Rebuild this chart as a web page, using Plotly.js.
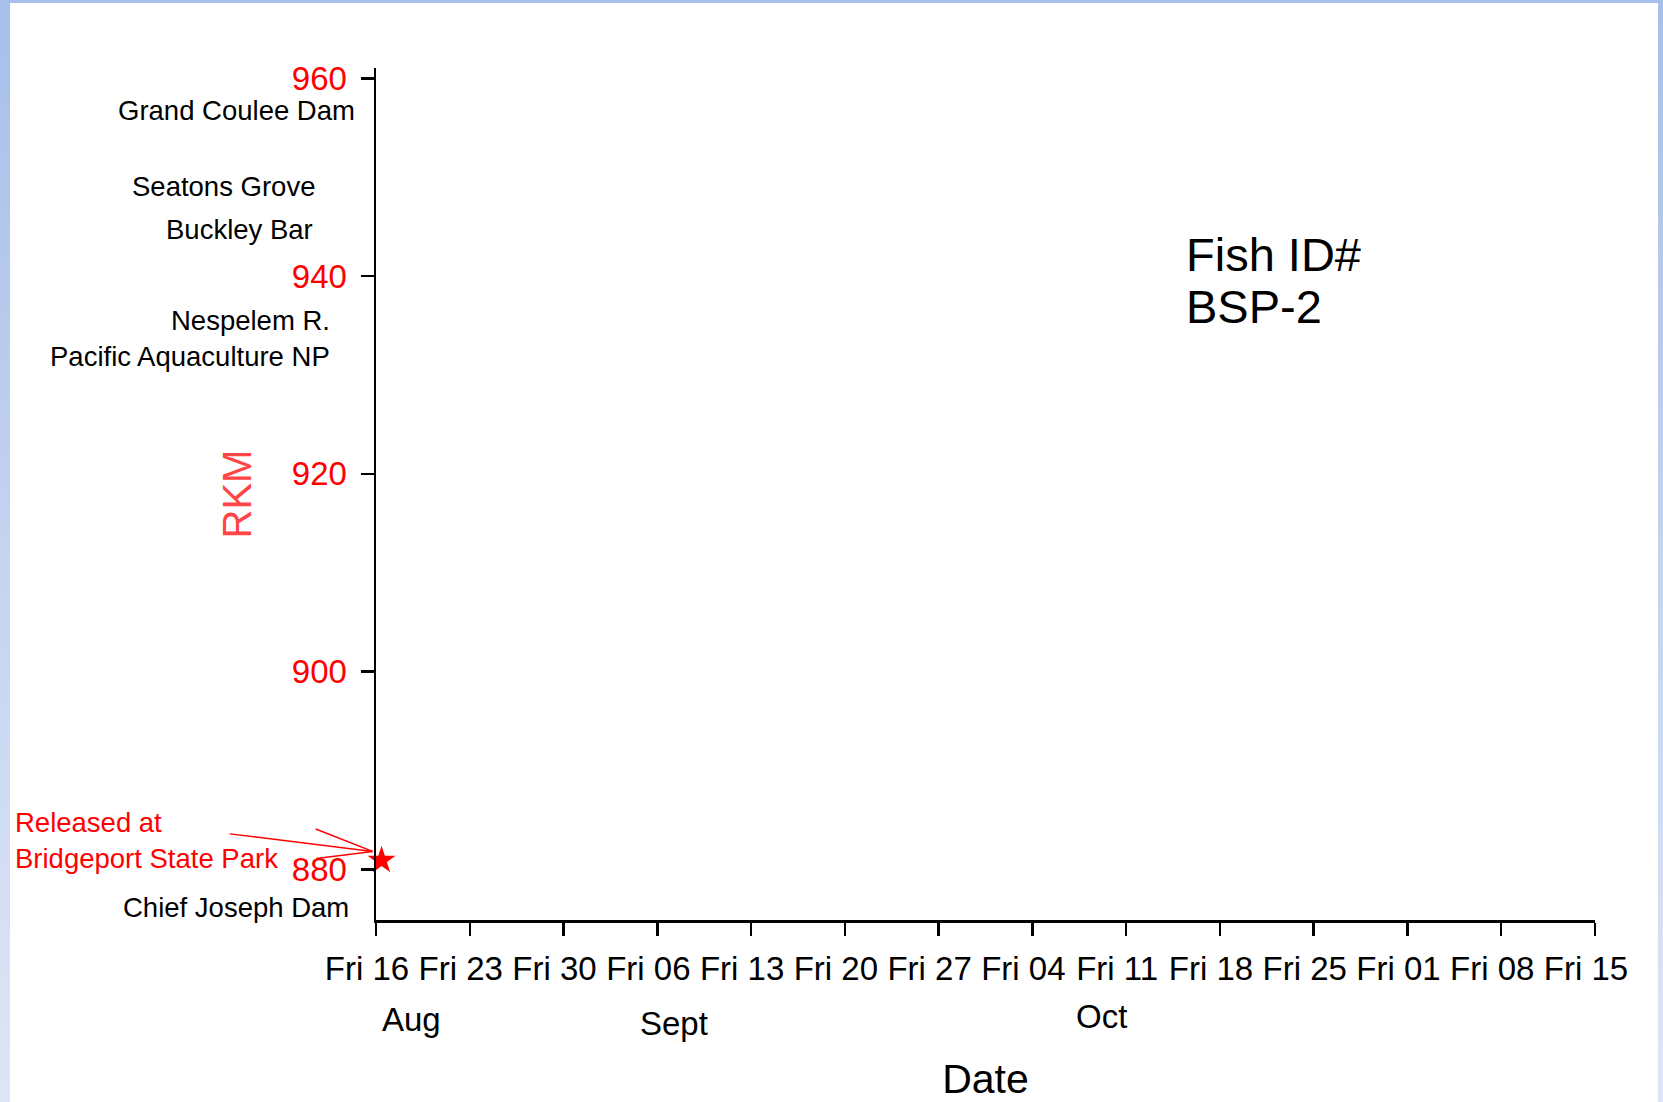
<!DOCTYPE html>
<html>
<head>
<meta charset="utf-8">
<script src="https://cdn.plot.ly/plotly-3.0.1.min.js"></script>
<style>
  html, body { margin: 0; padding: 0; }
  body { width: 1663px; height: 1102px; position: relative; overflow: hidden;
         background: linear-gradient(to bottom, #a7bfe9 0%, #c4d3f0 50%, #dde6f6 100%); }
  #sheet { position: absolute; left: 10px; top: 3px; width: 1648px; height: 1099px; background: #ffffff; }
  #chart { position: absolute; left: 0; top: 0; width: 1663px; height: 1102px; }
</style>
</head>
<body>
<div id="sheet"></div>
<div id="chart"></div>
<script>
// ---- data ----
const fishId = 'BSP-2';
const releaseDate = ['2013-08-16 10:00'];
const releaseRkm = [880.9];
const releaseLabel = 'Released at<br>Bridgeport State Park';

const locationNames = ['Grand Coulee Dam', 'Seatons Grove', 'Buckley Bar', 'Nespelem R.', 'Pacific Aquaculture NP', 'Chief Joseph Dam'];
const locationRkm = [956.8, 949.1, 944.7, 935.5, 931.9, 876.1];

const monthLabels = ['Aug', 'Sept', 'Oct'];
const monthLabelDates = ['2013-08-18 15:00', '2013-09-07 06:00', '2013-10-09 03:00'];

const xRange = ['2013-08-16', '2013-11-15'];
const yRange = [874.87, 961.05];
const yTickVals = [880, 900, 920, 940, 960];

// ---- layout helpers (pixel styling) ----
const FONT = 'Liberation Sans, Arial, Helvetica, sans-serif';
const plotLeft = 376;
const locRightEdge = [357, 317, 315, 332, 332, 351];
const monthYShift = [-99.5, -103.3, -96.5];

const annotations = [];
locationNames.forEach((name, i) => {
  annotations.push({
    text: name, xref: 'paper', x: 0, xanchor: 'right', xshift: locRightEdge[i] - plotLeft,
    yref: 'y', y: locationRkm[i], yanchor: 'middle', showarrow: false,
    font: {family: FONT, size: 27.5, color: '#000000'}
  });
});
monthLabels.forEach((m, i) => {
  annotations.push({
    text: m, xref: 'x', x: monthLabelDates[i], xanchor: 'center',
    yref: 'paper', y: 0, yanchor: 'middle', yshift: monthYShift[i], showarrow: false,
    font: {family: FONT, size: 33, color: '#000000'}
  });
});
annotations.push({
  text: releaseLabel, align: 'left', xref: 'paper', x: 0, xanchor: 'left', xshift: 13 - plotLeft,
  yref: 'y', y: releaseRkm[0], yanchor: 'middle', yshift: 20, showarrow: false,
  font: {family: FONT, size: 27.5, color: '#ff0000'}
});
annotations.push({
  text: 'Fish ID#', xref: 'paper', x: 0.663, xanchor: 'left', yref: 'paper', y: 0.7806, yanchor: 'middle',
  showarrow: false, font: {family: FONT, size: 47, color: '#000000'}
});
annotations.push({
  text: fishId, xref: 'paper', x: 0.663, xanchor: 'left', yref: 'paper', y: 0.7195, yanchor: 'middle',
  showarrow: false, font: {family: FONT, size: 47, color: '#000000'}
});

// pointer lines to the release marker: tail offsets (px) from the pointer tip
const pointerTails = [[-144.4, -17.7], [-58.4, -23], [-57.7, 7.3]];
pointerTails.forEach(t => {
  annotations.push({
    text: ' ', font: {size: 1}, xref: 'x', yref: 'y', x: releaseDate[0], y: releaseRkm[0],
    xshift: -9, yshift: 9, showarrow: true, arrowhead: 0, arrowwidth: 1.5, arrowcolor: '#ff0000',
    ax: t[0], ay: t[1], standoff: 0, startstandoff: 0
  });
});

const traces = [{
  type: 'scatter', mode: 'markers',
  x: releaseDate, y: releaseRkm,
  marker: {symbol: 'star', size: 21, color: '#ff0000', line: {width: 0}},
  cliponaxis: false, showlegend: false, hoverinfo: 'x+y'
}];

const layout = {
  width: 1663, height: 1102,
  margin: {l: 376, r: 68, t: 68, b: 182, pad: 0},
  paper_bgcolor: 'rgba(0,0,0,0)', plot_bgcolor: 'rgba(0,0,0,0)',
  showlegend: false,
  font: {family: FONT},
  xaxis: {
    type: 'date', range: xRange, tick0: '2013-08-16', dtick: 7 * 86400000,
    tickformat: '%a %d', ticks: 'outside', ticklen: 13, tickwidth: 2.5, tickcolor: '#000',
    showline: true, linecolor: '#000', linewidth: 2.5, showgrid: false, zeroline: false,
    tickfont: {family: FONT, size: 33, color: '#000'}, ticklabelshift: -9, ticklabelstandoff: 5,
    title: {text: 'Date\u00a0', font: {family: FONT, size: 41, color: '#000'}, standoff: 80},
    fixedrange: true
  },
  yaxis: {
    range: yRange, tickvals: yTickVals, ticks: 'outside', ticklen: 13, tickwidth: 2.5, tickcolor: '#000',
    showline: true, linecolor: '#000', linewidth: 2.5, showgrid: false, zeroline: false,
    tickfont: {family: FONT, size: 33, color: '#ff0000'}, ticklabelstandoff: 7,
    title: {text: 'RKM', font: {family: FONT, size: 40, color: '#ff4545'}, standoff: 28},
    fixedrange: true
  },
  annotations: annotations
};

Plotly.newPlot('chart', traces, layout, {displayModeBar: false, staticPlot: true});
</script>
</body>
</html>
